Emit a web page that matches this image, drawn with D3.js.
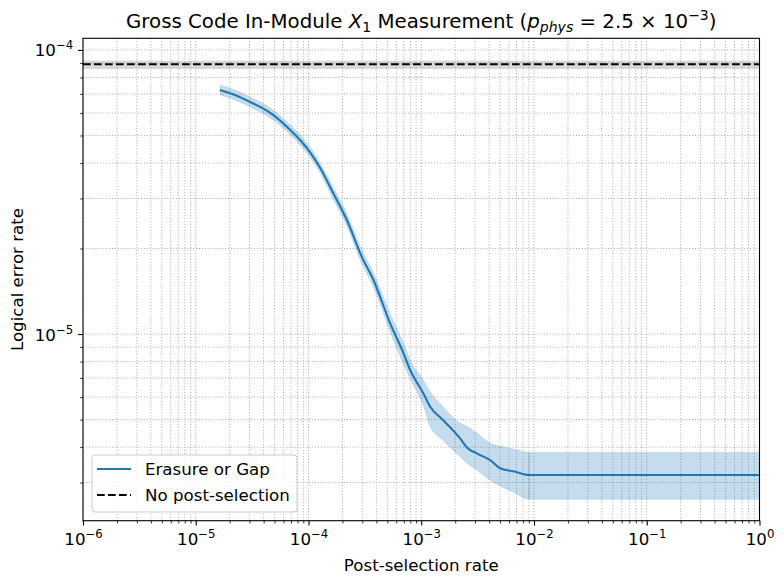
<!DOCTYPE html>
<html><head><meta charset="utf-8">
<script src="https://cdn.jsdelivr.net/npm/d3@7"></script>
<style>
html,body{margin:0;padding:0;background:#fff;}
svg{display:block;font-family:"DejaVu Sans",sans-serif;}
</style></head>
<body>
<svg id="chart" width="784" height="584"></svg>
<script>
// ---- data ----
const postSelectionRate = [1.64e-5, 2.23e-5, 3.03e-5, 3.88e-5, 4.88e-5, 6.46e-5, 8.42e-5, 1.03e-4, 1.27e-4, 1.66e-4, 2.19e-4, 2.97e-4, 3.77e-4, 5.30e-4, 6.95e-4, 7.97e-4, 1.04e-3, 1.20e-3, 1.56e-3, 2.21e-3, 2.54e-3, 3.11e-3, 4.09e-3, 5.01e-3, 6.54e-3, 9.05e-3, 1.0];
const logicalErrorRate = [7.23e-5, 6.94e-5, 6.56e-5, 6.25e-5, 5.90e-5, 5.36e-5, 4.82e-5, 4.37e-5, 3.84e-5, 3.13e-5, 2.52e-5, 1.87e-5, 1.55e-5, 1.09e-5, 8.57e-6, 7.47e-6, 6.20e-6, 5.55e-6, 4.98e-6, 4.29e-6, 3.99e-6, 3.80e-6, 3.60e-6, 3.37e-6, 3.29e-6, 3.19e-6, 3.19e-6];
const errorLow  = [6.94e-5, 6.67e-5, 6.30e-5, 6.00e-5, 5.67e-5, 5.15e-5, 4.63e-5, 4.20e-5, 3.69e-5, 2.98e-5, 2.40e-5, 1.77e-5, 1.46e-5, 1.02e-5, 7.84e-6, 6.98e-6, 5.62e-6, 4.72e-6, 4.23e-6, 3.70e-6, 3.51e-6, 3.32e-6, 3.06e-6, 2.92e-6, 2.78e-6, 2.62e-6, 2.62e-6];
const errorHigh = [7.53e-5, 7.23e-5, 6.83e-5, 6.51e-5, 6.14e-5, 5.58e-5, 5.02e-5, 4.55e-5, 4.00e-5, 3.28e-5, 2.65e-5, 1.98e-5, 1.64e-5, 1.18e-5, 9.30e-6, 8.10e-6, 6.89e-6, 6.26e-6, 5.55e-6, 4.86e-6, 4.74e-6, 4.48e-6, 4.13e-6, 4.03e-6, 3.94e-6, 3.83e-6, 3.83e-6];
const baselineRate = [8.90e-5];
const baselineLow = [8.57e-5];
const baselineHigh = [9.17e-5];
const seriesNames = ["Erasure or Gap", "No post-selection"];
const xMajorTicks = [1e-6, 1e-5, 1e-4, 1e-3, 1e-2, 1e-1, 1];
const yMajorTicks = [1e-5, 1e-4];

// ---- layout ----
const W = 784, H = 584;
const m = {left: 83, right: 24.5, top: 38.3, bottom: 63.3};
const svg = d3.select("#chart");
const blue = "#1f77b4";
const dashPattern = "7.7,3.3";

const x = d3.scaleLog().domain([1e-6, 1]).range([m.left, W - m.right]);
const y = d3.scaleLog().domain([Math.pow(10, -5.657), Math.pow(10, -3.959)]).range([H - m.bottom, m.top]);

function minorTicks(domain) {
  const out = [];
  const lo = Math.floor(Math.log10(domain[0])), hi = Math.ceil(Math.log10(domain[1]));
  for (let e = lo; e <= hi; e++) for (let k = 2; k <= 9; k++) {
    const v = k * Math.pow(10, e);
    if (v >= domain[0] && v <= domain[1]) out.push(v);
  }
  return out;
}
const xMinor = minorTicks(x.domain());
const yMinor = minorTicks(y.domain());

// ---- grid ----
const grid = svg.append("g").attr("stroke", "#b0b0b0").attr("stroke-width", 1).attr("stroke-dasharray", "1.1,1.8");
xMajorTicks.concat(xMinor).forEach(v => {
  grid.append("line").attr("x1", x(v)).attr("x2", x(v)).attr("y1", y.range()[0]).attr("y2", y.range()[1]);
});
yMajorTicks.concat(yMinor).forEach(v => {
  grid.append("line").attr("y1", y(v)).attr("y2", y(v)).attr("x1", x.range()[0]).attr("x2", x.range()[1]);
});

// ---- baseline band and line ----
svg.append("rect")
  .attr("x", x.range()[0]).attr("width", x.range()[1] - x.range()[0])
  .attr("y", y(baselineHigh[0])).attr("height", y(baselineLow[0]) - y(baselineHigh[0]))
  .attr("fill", "gray").attr("fill-opacity", 0.3);
svg.append("line")
  .attr("x1", x.range()[0]).attr("x2", x.range()[1])
  .attr("y1", y(baselineRate[0])).attr("y2", y(baselineRate[0]))
  .attr("stroke", "#000").attr("stroke-width", 2.08).attr("stroke-dasharray", dashPattern);

// ---- blue band ----
const rows = postSelectionRate.map((v, i) => ({x: v, y: logicalErrorRate[i], lo: errorLow[i], hi: errorHigh[i]}));
const area = d3.area().curve(d3.curveMonotoneX).x(d => x(d.x)).y0(d => y(d.lo)).y1(d => y(d.hi));
svg.append("path").datum(rows).attr("d", area)
  .attr("fill", blue).attr("fill-opacity", 0.26)
  .attr("stroke", blue).attr("stroke-opacity", 0.15).attr("stroke-width", 1);
const seam = rows[rows.length - 2];
svg.append("line").attr("x1", x(seam.x)).attr("x2", x(seam.x)).attr("y1", y(seam.lo)).attr("y2", y(seam.hi))
  .attr("stroke", blue).attr("stroke-opacity", 0.3).attr("stroke-width", 1);

const line = d3.line().curve(d3.curveMonotoneX).x(d => x(d.x)).y(d => y(d.y));
svg.append("path").datum(rows).attr("d", line)
  .attr("fill", "none").attr("stroke", blue).attr("stroke-width", 2.08).attr("stroke-linejoin", "round");

// ---- axes ----
function sci(sel) {
  sel.each(function(d) {
    const t = d3.select(this);
    t.text(null);
    const e = Math.round(Math.log10(d));
    t.append("tspan").text("10");
    t.append("tspan").attr("dy", -7).attr("font-size", 11.7).text(e < 0 ? "\u2212" + (-e) : String(e));
  });
}
const xAxis = svg.append("g").attr("transform", `translate(0,${y.range()[0]})`)
  .call(d3.axisBottom(x).tickValues(xMajorTicks).tickSize(4.9).tickPadding(4.9).tickFormat(d => d));
xAxis.select(".domain").remove();
xAxis.selectAll("text").attr("font-size", 16.67).attr("fill", "#000").attr("font-family", "DejaVu Sans").attr("dy", "0.85em").call(sci);
xAxis.selectAll("line").attr("stroke-width", 1.1);
const xAxisMinor = svg.append("g").attr("transform", `translate(0,${y.range()[0]})`)
  .call(d3.axisBottom(x).tickValues(xMinor).tickSize(2.8).tickFormat(""));
xAxisMinor.select(".domain").remove();
xAxisMinor.selectAll("line").attr("stroke-width", 0.8);

const yAxis = svg.append("g").attr("transform", `translate(${x.range()[0]},0)`)
  .call(d3.axisLeft(y).tickValues(yMajorTicks).tickSize(4.9).tickPadding(4.9).tickFormat(d => d));
yAxis.select(".domain").remove();
yAxis.selectAll("text").attr("font-size", 16.67).attr("fill", "#000").attr("font-family", "DejaVu Sans").attr("dy", "0.36em").call(sci);
yAxis.selectAll("line").attr("stroke-width", 1.1);
const yAxisMinor = svg.append("g").attr("transform", `translate(${x.range()[0]},0)`)
  .call(d3.axisLeft(y).tickValues(yMinor).tickSize(2.8).tickFormat(""));
yAxisMinor.select(".domain").remove();
yAxisMinor.selectAll("line").attr("stroke-width", 0.8);

// spines
svg.append("rect").attr("x", x.range()[0]).attr("y", y.range()[1])
  .attr("width", x.range()[1] - x.range()[0]).attr("height", y.range()[0] - y.range()[1])
  .attr("fill", "none").attr("stroke", "#000").attr("stroke-width", 1.1);

// ---- labels ----
const cx = (x.range()[0] + x.range()[1]) / 2;
svg.append("text").attr("x", cx).attr("y", 571).attr("text-anchor", "middle").attr("font-size", 16.67).text("Post-selection rate");
svg.append("text").attr("transform", `translate(23,${(y.range()[0] + y.range()[1]) / 2}) rotate(-90)`)
  .attr("text-anchor", "middle").attr("font-size", 16.67).text("Logical error rate");

const title = svg.append("text").attr("x", cx).attr("y", 28).attr("text-anchor", "middle").attr("font-size", 19.8);
title.append("tspan").text("Gross Code In-Module ");
title.append("tspan").attr("font-style", "italic").text("X");
title.append("tspan").attr("font-size", 14).attr("dy", 4).text("1");
title.append("tspan").attr("dy", -4).text(" Measurement (");
title.append("tspan").attr("font-style", "italic").text("p");
title.append("tspan").attr("font-style", "italic").attr("font-size", 14).attr("dy", 4).text("phys");
title.append("tspan").attr("dy", -4).text(" = 2.5 \u00d7 10");
title.append("tspan").attr("font-size", 14).attr("dy", -8).text("\u22123");
title.append("tspan").attr("dy", 8).text(")");

// ---- legend ----
const lg = svg.append("g");
lg.append("rect").attr("x", 92).attr("y", 455).attr("width", 205).attr("height", 57).attr("rx", 3)
  .attr("fill", "#fff").attr("fill-opacity", 0.8).attr("stroke", "#cccccc").attr("stroke-width", 1);
const entries = [
  {name: seriesNames[0], color: blue, dash: null},
  {name: seriesNames[1], color: "#000", dash: dashPattern}
];
entries.forEach((e, i) => {
  const yy = 469 + i * 26;
  lg.append("line").attr("x1", 97).attr("x2", 131).attr("y1", yy).attr("y2", yy)
    .attr("stroke", e.color).attr("stroke-width", 2.08).attr("stroke-dasharray", e.dash);
  lg.append("text").attr("x", 145).attr("y", yy + 6).attr("font-size", 16.67).text(e.name);
});
</script>
</body></html>
